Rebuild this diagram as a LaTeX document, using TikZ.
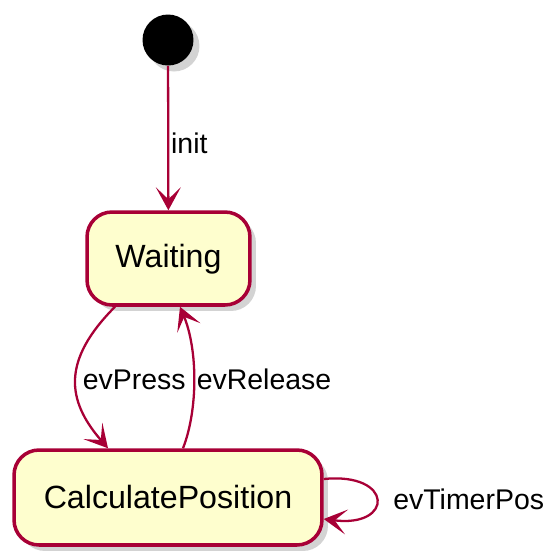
\documentclass[tikz,border=0pt]{standalone}
\usepackage{fontspec}
\setmainfont{Liberation Sans}
\usepackage{tikz}
\usetikzlibrary{positioning,arrows.meta,shadows}
\definecolor{umlred}{HTML}{A80036}
\definecolor{umlfill}{HTML}{FEFECE}

\begin{document}
\begin{tikzpicture}[x=0.02cm, y=-0.02cm,
  state/.style={draw=umlred, fill=umlfill, line width=2pt, rounded corners=0.5cm, inner sep=0pt,
    font=\fontsize{18.3}{20}\selectfont, drop shadow={opacity=0.35, shadow xshift=0.12cm, shadow yshift=-0.12cm}},
  start/.style={fill=black, circle, minimum size=1.02cm, inner sep=0pt,
    drop shadow={opacity=0.35, shadow xshift=0.12cm, shadow yshift=-0.12cm}},
  arr/.style={-{Stealth[length=0.46cm, width=0.5cm, inset=0.24cm]}, draw=umlred, line width=1.3pt},
  lbl/.style={font=\fontsize{16.2}{18}\selectfont, inner sep=1pt}]
              \useasboundingbox (0,0) rectangle (554,559);
              \node[start] (init) at (168,40) {};
              \node[state, minimum width=3.26cm, minimum height=1.86cm, text height=0.5cm] (waiting) at (168.5,258.5) {Waiting};
              \node[state, minimum width=6.16cm, minimum height=1.9cm] (calc) at (168,497.5) {CalculatePosition};

              \draw[arr] (init) -- node[lbl, right, yshift=-0.1cm] (linit) {init} (waiting);
              \draw[arr] ([xshift=-1.07cm]waiting.south) .. controls (62,360) and (66,400) .. node[lbl, right, xshift=0.08cm] (lpress) {evPress} ([xshift=-1.2cm]calc.north);
              \draw[arr] ([xshift=0.3cm]calc.north) .. controls (198,410) and (198,350) .. node[lbl, right] (lrelease) {evRelease} ([xshift=0.23cm]waiting.south);
              \draw[arr] ([yshift=0.37cm]calc.east) .. controls (394,472) and (394,528) .. node[lbl, right, xshift=0.28cm] (ltimer) {evTimerPos} ([yshift=-0.43cm]calc.east);
            \end{tikzpicture}
\end{document}
